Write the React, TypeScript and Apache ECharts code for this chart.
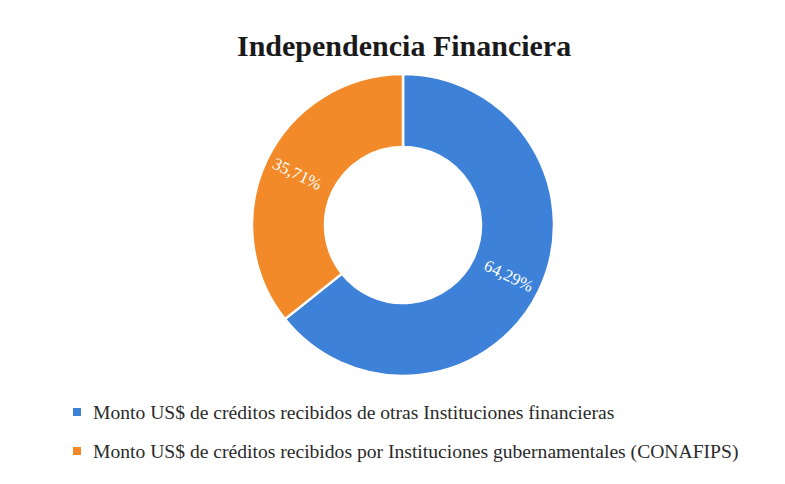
import React, { useEffect, useRef } from "react";
import * as echarts from "echarts";

const categories = [
  "Monto US$ de créditos recibidos de otras Instituciones financieras",
  "Monto US$ de créditos recibidos por Instituciones gubernamentales (CONAFIPS)",
];
const values = [64.29, 35.71];
const colors = ["#3d82d8", "#f28a2a"];

export default function App() {
  const ref = useRef<HTMLDivElement>(null);
  useEffect(() => {
    const chart = echarts.init(ref.current!, undefined, { renderer: "svg" });
    chart.setOption({
      animation: false,
      backgroundColor: "#ffffff",
      title: {
        text: "Independencia Financiera",
        left: 224,
        top: 17,
        textStyle: {
          fontFamily: "Liberation Serif",
          fontWeight: "bold",
          fontSize: 30,
          color: "#1a1a1a",
        },
      },
      legend: {
        orient: "vertical",
        left: 58,
        top: 389,
        itemWidth: 10,
        itemHeight: 10,
        itemGap: 19,
        icon: "rect",
        textStyle: {
          fontFamily: "Liberation Serif",
          fontSize: 19.6,
          color: "#2a2a2a",
          padding: [0, 0, 0, 6],
        },
        data: categories,
      },
      series: [
        {
          type: "pie",
          center: [395, 217],
          radius: [78, 151],
          startAngle: 90,
          clockwise: true,
          itemStyle: { borderColor: "#ffffff", borderWidth: 2.5 },
          label: {
            show: true,
            position: "inside",
            rotate: "radial",
            color: "#ffffff",
            fontFamily: "Liberation Serif",
            fontSize: 17,
            formatter: (p: any) => p.value.toFixed(2).replace(".", ",") + "%",
          },
          labelLine: { show: false },
          data: categories.map((c, i) => ({
            name: c,
            value: values[i],
            itemStyle: { color: colors[i] },
          })),
        },
      ],
    });
    return () => chart.dispose();
  }, []);
  return <div ref={ref} style={{ width: 769, height: 468 }} />;
}
